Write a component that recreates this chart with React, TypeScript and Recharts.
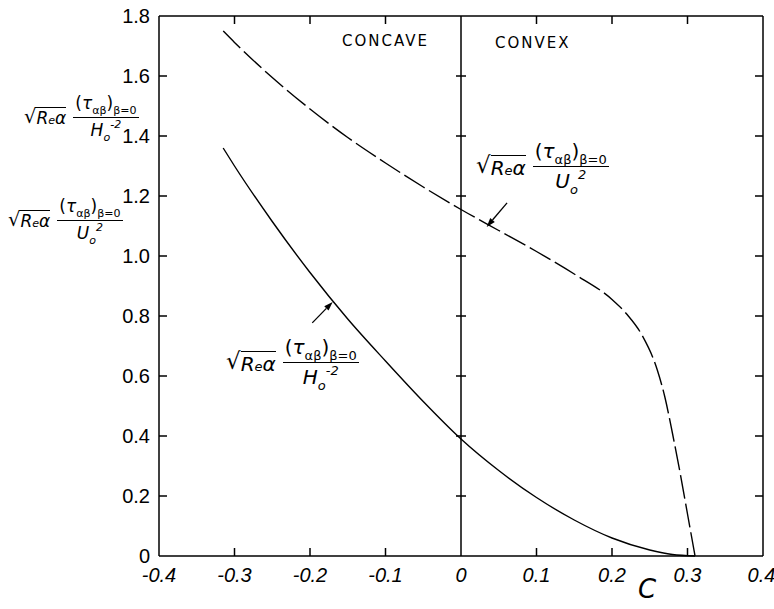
import React from 'react';
import { ComposedChart, Line, Scatter, XAxis, YAxis, ReferenceLine } from 'recharts';

// curvature parameter C and the two wall shear stress curves
const uoC = [-0.315, -0.3, -0.25, -0.2, -0.15, -0.1, -0.05, 0, 0.05, 0.1, 0.15, 0.2, 0.22, 0.24, 0.26, 0.27, 0.28, 0.29, 0.3, 0.31];
const uoValues = [1.75, 1.712, 1.595, 1.49, 1.395, 1.31, 1.23, 1.155, 1.085, 1.015, 0.94, 0.855, 0.805, 0.735, 0.62, 0.53, 0.41, 0.28, 0.14, 0];

const hoC = [-0.315, -0.3, -0.25, -0.2, -0.15, -0.1, -0.05, 0, 0.05, 0.1, 0.15, 0.2, 0.25, 0.28, 0.31];
const hoValues = [1.36, 1.3, 1.115, 0.945, 0.79, 0.65, 0.515, 0.39, 0.285, 0.195, 0.12, 0.06, 0.02, 0.005, 0];

const xTicks = [-0.4, -0.3, -0.2, -0.1, 0, 0.1, 0.2, 0.3, 0.4];
const yTicks = [0, 0.2, 0.4, 0.6, 0.8, 1.0, 1.2, 1.4, 1.6, 1.8];
const innerXTicks = [-0.3, -0.2, -0.1, 0.1, 0.2, 0.3];
const innerYTicks = [0.2, 0.4, 0.6, 0.8, 1.0, 1.2, 1.4, 1.6];

// arrow annotations (tail -> head) in data units
const uoArrow = [{ x: 0.061, y: 1.177 }, { x: 0.034, y: 1.097 }];
const hoArrow = [{ x: -0.197, y: 0.777 }, { x: -0.17, y: 0.847 }];

const uoData = uoC.map((c, i) => ({ c, v: uoValues[i] }));
const hoData = hoC.map((c, i) => ({ c, v: hoValues[i] }));

// inward tick marks on the frame and crosses on the C = 0 line
const leftTicks = innerYTicks.map((v) => ({ c: -0.4, v }));
const rightTicks = innerYTicks.map((v) => ({ c: 0.4, v }));
const zeroTicks = innerYTicks.map((v) => ({ c: 0, v }));
const topTicks = innerXTicks.map((c) => ({ c, v: 1.8 }));
const bottomTicks = innerXTicks.map((c) => ({ c, v: 0 }));

const fmt = (v: number) => (v === 0 ? '0' : v.toFixed(1));

const Arrow = (props: any) => {
  const { x1, y1, x2, y2 } = props;
  const a = Math.atan2(y2 - y1, x2 - x1);
  const L = 9, W = 3;
  const bx = x2 - L * Math.cos(a), by = y2 - L * Math.sin(a);
  const p1 = `${bx + W * Math.sin(a)},${by - W * Math.cos(a)}`;
  const p2 = `${bx - W * Math.sin(a)},${by + W * Math.cos(a)}`;
  return (
    <g>
      <line x1={x1} y1={y1} x2={bx} y2={by} stroke="#000" strokeWidth={1.3} />
      <polygon points={`${x2},${y2} ${p1} ${p2}`} fill="#000" />
    </g>
  );
};

const tickMark = (dx1: number, dy1: number, dx2: number, dy2: number) => (props: any) => {
  const { cx, cy } = props;
  return (
    <path d={`M${cx + dx1},${cy + dy1}L${cx + dx2},${cy + dy2}`} stroke="#000" strokeWidth={1.5} fill="none" />
  );
};

const Formula = ({ left, top, denom, size = 17 }: { left: number; top: number; denom: 'H' | 'U'; size?: number }) => {
  const sub: React.CSSProperties = { fontSize: size * 0.65, position: 'relative', top: size * 0.3 };
  const sup: React.CSSProperties = { fontSize: size * 0.65, position: 'relative', top: -size * 0.45 };
  return (
    <div
      style={{
        position: 'absolute', left, top, display: 'flex', alignItems: 'center',
        fontFamily: '"DejaVu Sans", sans-serif', fontSize: size, color: '#000', lineHeight: 1.1, whiteSpace: 'nowrap',
      }}
    >
      <span style={{ display: 'inline-flex', alignItems: 'flex-end' }}>
        <span style={{ fontSize: size * 1.15 }}>√</span>
        <span style={{ borderTop: '1px solid #000', fontStyle: 'italic', paddingTop: 1 }}>
          R<span style={{ fontSize: size * 0.65 }}>e</span>α
        </span>
      </span>
      <span style={{ display: 'inline-flex', flexDirection: 'column', alignItems: 'center', marginLeft: 7 }}>
        <span style={{ borderBottom: '1px solid #000', padding: '0 2px 4px 2px' }}>
          (<span style={{ fontStyle: 'italic' }}>τ</span>
          <span style={sub}>αβ</span>)<span style={sub}>β=0</span>
        </span>
        <span style={{ fontStyle: 'italic', paddingTop: 3 }}>
          {denom}
          <span style={sub}>o</span>
          <span style={sup}>{denom === 'H' ? '-2' : '2'}</span>
        </span>
      </span>
    </div>
  );
};

const label: React.CSSProperties = {
  position: 'absolute', fontFamily: '"DejaVu Sans", sans-serif', fontSize: 15, letterSpacing: 2, color: '#000',
};

export default function App() {
  const axisStyle = { stroke: '#000', strokeWidth: 1.5 };
  const ids = { xAxisId: 'bottom', yAxisId: 'left' };
  return (
    <div style={{ position: 'absolute', left: 0, top: 0, width: 774, height: 609, background: '#fff' }}>
      <ComposedChart width={774} height={609} margin={{ top: 0, right: 0, bottom: 0, left: 0 }}>
        <XAxis
          xAxisId="bottom" dataKey="c" type="number" domain={[-0.4, 0.4]} ticks={xTicks}
          height={53} tickSize={-10} tickMargin={22} tickFormatter={fmt}
          axisLine={axisStyle} tickLine={false}
          tick={{ fill: '#000', fontSize: 20, fontStyle: 'italic', fontFamily: '"Liberation Sans", sans-serif' }}
        />
        <XAxis
          xAxisId="top" orientation="top" type="number" domain={[-0.4, 0.4]} ticks={xTicks}
          height={16} tick={false} axisLine={axisStyle} tickLine={false}
        />
        <YAxis
          yAxisId="left" type="number" domain={[0, 1.8]} ticks={yTicks}
          width={159} tickSize={-10} tickMargin={19} tickFormatter={fmt}
          axisLine={axisStyle} tickLine={false}
          tick={{ fill: '#000', fontSize: 20, fontFamily: '"Liberation Sans", sans-serif' }}
        />
        <YAxis
          yAxisId="right" orientation="right" type="number" domain={[0, 1.8]} ticks={yTicks}
          width={11} tick={false} axisLine={axisStyle} tickLine={false}
        />
        <ReferenceLine {...ids} x={0} stroke="#000" strokeWidth={1.5} />
        <Scatter {...ids} data={leftTicks} dataKey="v" shape={tickMark(0, 0, 8, 0)} isAnimationActive={false} />
        <Scatter {...ids} data={rightTicks} dataKey="v" shape={tickMark(-8, 0, 0, 0)} isAnimationActive={false} />
        <Scatter {...ids} data={zeroTicks} dataKey="v" shape={tickMark(-5, 0, 5, 0)} isAnimationActive={false} />
        <Scatter {...ids} data={topTicks} dataKey="v" shape={tickMark(0, 0, 0, 8)} isAnimationActive={false} />
        <Scatter {...ids} data={bottomTicks} dataKey="v" shape={tickMark(0, -8, 0, 0)} isAnimationActive={false} />
        <Line
          {...ids} data={uoData} dataKey="v" type="monotone"
          stroke="#000" strokeWidth={1.4} strokeDasharray="24 5" dot={false} isAnimationActive={false}
        />
        <Line
          {...ids} data={hoData} dataKey="v" type="monotone"
          stroke="#000" strokeWidth={1.4} dot={false} isAnimationActive={false}
        />
        <ReferenceLine {...ids} segment={uoArrow} shape={Arrow} />
        <ReferenceLine {...ids} segment={hoArrow} shape={Arrow} />
      </ComposedChart>

      <div style={{ ...label, left: 342, top: 32 }}>CONCAVE</div>
      <div style={{ ...label, left: 495, top: 34 }}>CONVEX</div>
      <div
        style={{
          position: 'absolute', left: 638, top: 576, fontSize: 26, lineHeight: 1, fontStyle: 'italic',
          fontFamily: '"DejaVu Sans", sans-serif', color: '#000',
        }}
      >
        C
      </div>

      <Formula left={24} top={94} denom="H" size={17} />
      <Formula left={8} top={197} denom="U" size={17} />
      <Formula left={226} top={336} denom="H" size={20} />
      <Formula left={476} top={140} denom="U" size={20} />
    </div>
  );
}
